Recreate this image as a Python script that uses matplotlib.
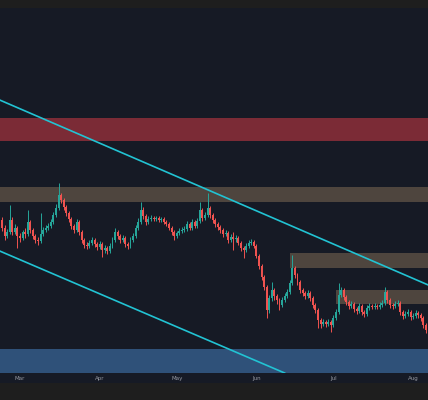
import numpy as np
import pandas as pd
import matplotlib
matplotlib.use('Agg')
import matplotlib.pyplot as plt
import matplotlib.dates as mdates
from matplotlib.patches import Rectangle

# daily candles, open is the previous close
first_open = 1.80
closes = [1.72, 1.64, 1.68, 1.80, 1.68, 1.72, 1.64, 1.62, 1.68, 1.66,
          1.78, 1.70, 1.64, 1.60, 1.59, 1.66, 1.70, 1.72, 1.74, 1.78,
          1.85, 1.92, 2.05, 2.00, 1.93, 1.87, 1.81, 1.74, 1.70, 1.78,
          1.68, 1.60, 1.55, 1.54, 1.57, 1.60, 1.56, 1.53, 1.56, 1.50,
          1.52, 1.49, 1.54, 1.60, 1.68, 1.64, 1.60, 1.62, 1.56, 1.54,
          1.60, 1.64, 1.72, 1.78, 1.90, 1.84, 1.78, 1.81, 1.82, 1.81,
          1.82, 1.80, 1.81, 1.78, 1.76, 1.72, 1.68, 1.64, 1.67, 1.69,
          1.70, 1.71, 1.76, 1.72, 1.78, 1.74, 1.79, 1.90, 1.82, 1.85,
          1.92, 1.85, 1.80, 1.76, 1.73, 1.70, 1.66, 1.67, 1.60, 1.63,
          1.61, 1.62, 1.57, 1.52, 1.50, 1.54, 1.57, 1.58, 1.54, 1.44,
          1.34, 1.23, 1.13, 0.90, 1.02, 1.10, 1.04, 1.00, 0.95, 1.00,
          1.04, 1.08, 1.17, 1.32, 1.25, 1.18, 1.10, 1.07, 1.04, 1.07,
          1.02, 0.95, 0.90, 0.80, 0.76, 0.78, 0.76, 0.78, 0.75, 0.82,
          0.88, 1.05, 1.10, 1.03, 0.98, 0.94, 0.96, 0.91, 0.89, 0.94,
          0.88, 0.86, 0.92, 0.94, 0.93, 0.94, 0.93, 0.95, 0.97, 1.08,
          1.00, 0.95, 0.94, 0.96, 0.97, 0.88, 0.84, 0.86, 0.88, 0.83,
          0.84, 0.87, 0.85, 0.82, 0.75, 0.70]
highs = [1.83, 1.75, 1.71, 1.95, 1.83, 1.76, 1.74, 1.67, 1.70, 1.72,
         1.90, 1.80, 1.72, 1.66, 1.63, 1.87, 1.73, 1.75, 1.77, 1.81,
         1.88, 1.96, 2.17, 2.07, 2.02, 1.95, 1.89, 1.83, 1.76, 1.81,
         1.80, 1.70, 1.62, 1.58, 1.60, 1.63, 1.62, 1.58, 1.59, 1.58,
         1.55, 1.54, 1.57, 1.63, 1.72, 1.70, 1.66, 1.65, 1.64, 1.58,
         1.63, 1.67, 1.75, 1.82, 1.98, 1.93, 1.86, 1.84, 1.85, 1.84,
         1.84, 1.84, 1.83, 1.83, 1.80, 1.78, 1.74, 1.70, 1.69, 1.72,
         1.73, 1.74, 1.79, 1.78, 1.81, 1.80, 1.82, 1.98, 1.92, 1.88,
         2.07, 1.94, 1.87, 1.82, 1.78, 1.75, 1.72, 1.70, 1.69, 1.66,
         1.68, 1.65, 1.64, 1.59, 1.54, 1.57, 1.60, 1.61, 1.60, 1.56,
         1.46, 1.36, 1.25, 1.15, 1.05, 1.18, 1.12, 1.06, 1.02, 1.03,
         1.07, 1.11, 1.20, 1.45, 1.34, 1.27, 1.20, 1.12, 1.09, 1.10,
         1.09, 1.04, 0.97, 0.92, 0.82, 0.81, 0.80, 0.81, 0.80, 0.85,
         0.91, 1.17, 1.13, 1.12, 1.05, 1.00, 0.99, 0.98, 0.93, 0.97,
         0.96, 0.90, 0.95, 0.97, 0.96, 0.97, 0.96, 0.98, 1.00, 1.13,
         1.10, 1.02, 0.97, 0.99, 1.00, 0.99, 0.90, 0.89, 0.91, 0.90,
         0.87, 0.90, 0.89, 0.87, 0.84, 0.77]
lows = [1.69, 1.60, 1.62, 1.66, 1.65, 1.66, 1.52, 1.58, 1.60, 1.62,
        1.64, 1.67, 1.61, 1.57, 1.55, 1.57, 1.64, 1.68, 1.70, 1.72,
        1.76, 1.83, 1.90, 1.97, 1.90, 1.84, 1.78, 1.71, 1.67, 1.68,
        1.65, 1.57, 1.52, 1.51, 1.52, 1.55, 1.53, 1.50, 1.51, 1.43,
        1.47, 1.46, 1.47, 1.52, 1.58, 1.61, 1.57, 1.58, 1.53, 1.51,
        1.52, 1.58, 1.62, 1.70, 1.76, 1.81, 1.75, 1.76, 1.79, 1.79,
        1.79, 1.78, 1.78, 1.76, 1.74, 1.70, 1.65, 1.60, 1.62, 1.65,
        1.67, 1.68, 1.69, 1.70, 1.70, 1.72, 1.72, 1.77, 1.79, 1.80,
        1.83, 1.82, 1.77, 1.73, 1.70, 1.67, 1.63, 1.64, 1.57, 1.58,
        1.50, 1.58, 1.55, 1.49, 1.42, 1.48, 1.52, 1.55, 1.52, 1.42,
        1.31, 1.20, 1.10, 0.82, 0.87, 0.99, 1.00, 0.96, 0.90, 0.93,
        0.98, 1.02, 1.06, 1.15, 1.22, 1.15, 1.07, 1.04, 1.01, 1.02,
        0.99, 0.92, 0.87, 0.72, 0.72, 0.74, 0.73, 0.74, 0.68, 0.73,
        0.80, 0.86, 1.03, 1.00, 0.95, 0.91, 0.92, 0.88, 0.86, 0.87,
        0.85, 0.83, 0.84, 0.90, 0.91, 0.91, 0.91, 0.91, 0.93, 0.95,
        0.97, 0.92, 0.91, 0.92, 0.94, 0.85, 0.81, 0.82, 0.84, 0.80,
        0.81, 0.82, 0.82, 0.79, 0.72, 0.67]

start_day = '2022-02-22'

# horizontal zones: (low, high, first day or None for full width, colour)
zones = [
    (2.59, 2.82, None, '#7b2b36'),
    (1.98, 2.13, None, '#4e453e'),
    (1.32, 1.47, '2022-06-14', '#4e453e'),
    (0.96, 1.10, '2022-07-02', '#4e453e'),
    (0.20, 0.51, None, '#2f5179'),
]

# channel lines, two anchor points each
channel_upper = [('2022-02-22', 2.99), ('2022-08-06', 1.16)]
channel_lower = [('2022-02-22', 1.48), ('2022-06-12', 0.27)]

bg = '#161a25'
up_col = '#26a69a'
down_col = '#ef5350'
line_col = '#22c3d3'

dates = pd.date_range(start_day, periods=len(closes), freq='D')
x = mdates.date2num(dates)
c = np.array(closes)
o = np.concatenate([[first_open], c[:-1]])
h = np.array(highs)
l = np.array(lows)
col = np.where(c >= o, up_col, down_col)

fig = plt.figure(figsize=(4.28, 4.0), dpi=100, facecolor='#1e1e1e')
# strip under the plot that holds the month labels
fig.patches.append(Rectangle((0, 17 / 400), 1, 10 / 400, transform=fig.transFigure,
                             facecolor=bg, edgecolor='none', zorder=-5))
ax = fig.add_axes([0, 27 / 400, 1, 365 / 400])
ax.set_facecolor(bg)

xmin, xmax = x[0] - 0.78, x[0] + 165.8
for lo, hi, day, colr in zones:
    x0 = xmin if day is None else mdates.date2num(pd.Timestamp(day))
    ax.fill_between([x0, xmax + 5], lo, hi, color=colr, lw=0, zorder=1)

ax.vlines(x, l, h, colors=col, lw=0.7, zorder=3)
ax.bar(x, np.maximum(np.abs(c - o), 0.006), bottom=np.minimum(o, c), width=0.75,
       color=col, lw=0, zorder=4)

for pts in (channel_upper, channel_lower):
    p0 = (mdates.date2num(pd.Timestamp(pts[0][0])), pts[0][1])
    p1 = (mdates.date2num(pd.Timestamp(pts[1][0])), pts[1][1])
    ax.axline(p0, p1, color=line_col, lw=1.2, zorder=5)

ax.set_xlim(xmin, xmax)
ax.set_ylim(0.27, 3.92)
ax.xaxis.set_major_locator(mdates.MonthLocator())
ax.xaxis.set_major_formatter(mdates.DateFormatter('%b'))
ax.tick_params(axis='x', length=0, pad=2.5, labelsize=4, labelcolor='#9598a1')
ax.set_yticks([])
for s in ax.spines.values():
    s.set_visible(False)

fig.savefig('out.png', dpi=100, facecolor=fig.get_facecolor())
